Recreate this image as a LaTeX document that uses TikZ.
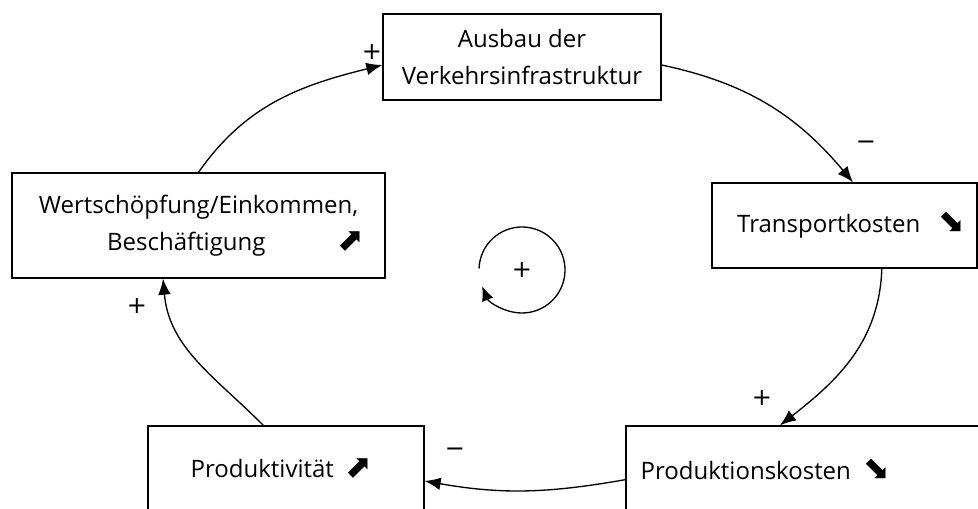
\documentclass[tikz,border=0pt]{standalone}
\usepackage{fontspec}
\setmainfont{Open Sans}
\newfontfamily\symbfont{DejaVu Sans}
\usetikzlibrary{arrows.meta}
\newcommand\trendup{{\symbfont\fontsize{24}{24}\selectfont ⬈}}
\newcommand\trenddown{{\symbfont\fontsize{24}{24}\selectfont ⬊}}

\begin{document}
\begin{tikzpicture}[x=0.75pt, y=0.75pt, font=\fontsize{18}{28}\selectfont,
  factor/.style={draw, line width=1pt, align=center, inner sep=0pt},
  link/.style={line width=1pt, -{Latex[length=12pt, width=9.5pt]}},
  sign/.style={inner sep=0pt, font=\symbfont\fontsize{18}{18}\selectfont}]

\useasboundingbox (0,0) rectangle (978,509);
\clip (0,0) rectangle (978,509);

\node[factor, minimum width=208.5pt, minimum height=64.5pt] (ausbau) at (522,452)
  {Ausbau der\\Verkehrsinfrastruktur};

\node[factor, minimum width=279.75pt, minimum height=78.75pt] (wert) at (198.5,283.5)
  {Wertschöpfung/Einkommen,\\\hspace*{56pt}\makebox[193pt]{Beschäftigung\hfill\trendup}};

\node[factor, minimum width=198.75pt, minimum height=63.75pt] (transport) at (844.5,283.5)
  {\hspace*{10pt}\makebox[171pt]{Transportkosten\hfill\trenddown}};

\node[factor, minimum width=267pt, minimum height=64.5pt] (prodkosten) at (804,40)
  {\makebox[187pt]{Produktionskosten\hfill\trenddown}\hspace*{58pt}};

\node[factor, minimum width=207pt, minimum height=64.5pt] (produktiv) at (286,40)
  {\makebox[136pt]{Produktivität\hfill\trendup}\hspace*{7pt}};

% Wirkungskette
\draw[link] (wert.north) to[out=55, in=194] ([yshift=-6pt]ausbau.west);
\draw[link] ([yshift=-6pt]ausbau.east) to[out=-12, in=130] ([xshift=6.4pt]transport.north);
\draw[link] ([xshift=28pt]transport.south) to[out=-92, in=38] ([xshift=-18pt]prodkosten.north);
\draw[link] ([yshift=-8pt]prodkosten.west) to[out=190, in=-10] ([yshift=-9pt]produktiv.east);
\draw[link] ([xshift=-17pt]produktiv.north) to[out=135, in=-85] ([xshift=-26.6pt]wert.south);

\node[sign] (s1) at (372,457) {+};
\node[sign] (s2) at (866,364) {−};
\node[sign] (s3) at (762,111) {+};
\node[sign] (s4) at (455,57) {−};
\node[sign] (s5) at (137,203) {+};

% Kreislauf
\coordinate (loop) at (522,239);
\draw[line width=1pt, -{Latex[length=11pt, width=9pt]}] ([shift={(178:43)}]loop)
  arc[start angle=178, end angle=-158, radius=43];
\node[sign] (loopsign) at (loop) {+};

\end{tikzpicture}
\end{document}
